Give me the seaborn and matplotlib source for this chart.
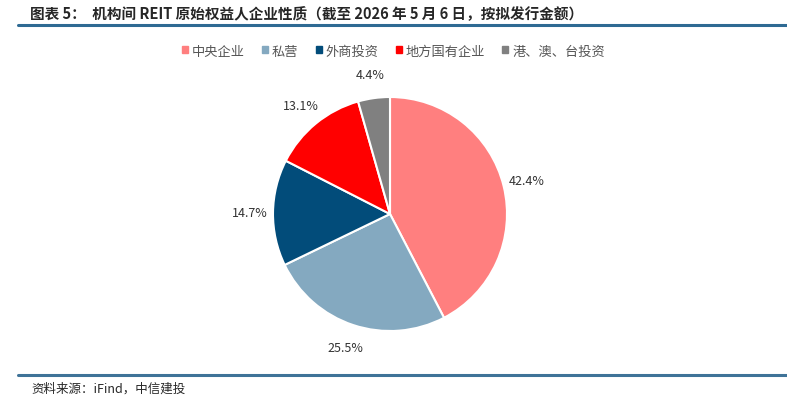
import matplotlib
matplotlib.use("Agg")
import matplotlib.pyplot as plt
import seaborn as sns
from matplotlib.lines import Line2D

sns.set_theme(style="white")
plt.rcParams['font.family'] = ['Noto Sans CJK SC', 'DejaVu Sans']

categories = ["中央企业", "私营", "外商投资", "地方国有企业", "港、澳、台投资"]
values = [42.4, 25.5, 14.7, 13.1, 4.4]
colors = ["#FF7F7F", "#84A9C0", "#024C7A", "#FF0000", "#808080"]

fig = plt.figure(figsize=(7.87, 4.10), dpi=100)
fig.text(0.038, 0.965, "图表 5：  机构间 REIT 原始权益人企业性质（截至 2026 年 5 月 6 日，按拟发行金额）",
         fontsize=10.5, fontweight='bold', va='center', ha='left')
fig.add_artist(Line2D([0.023, 1.0], [0.937, 0.937], color="#2E6A93", lw=2.2))
fig.add_artist(Line2D([0.023, 1.0], [0.083, 0.083], color="#3F7398", lw=2.2))
fig.text(0.04, 0.05, "资料来源：iFind，中信建投", fontsize=9, style='italic', va='center')

r = 117
ax = fig.add_axes([(390 - r) / 787, (410 - 215 - r) / 410, 2 * r / 787, 2 * r / 410])
wedges, texts, autotexts = ax.pie(values, colors=colors, startangle=90, counterclock=False,
       autopct=lambda p: f"{p:.1f}%", pctdistance=1.2,
       wedgeprops=dict(edgecolor="white", linewidth=1.5),
       textprops=dict(fontsize=9, color="#333333"))
ax.set_xlim(-1, 1)
ax.set_ylim(-1, 1)
ax.set_aspect('equal')
ax.axis('off')

handles = [plt.Rectangle((0, 0), 1, 1, color=c) for c in colors]
fig.legend(handles, categories, loc='center', bbox_to_anchor=(0.5, 0.873), ncol=5,
           frameon=False, fontsize=9.5, handlelength=0.45, handleheight=0.45,
           columnspacing=1.3, handletextpad=0.3, labelcolor="#555555")

fig.savefig("out.png", dpi=100)
